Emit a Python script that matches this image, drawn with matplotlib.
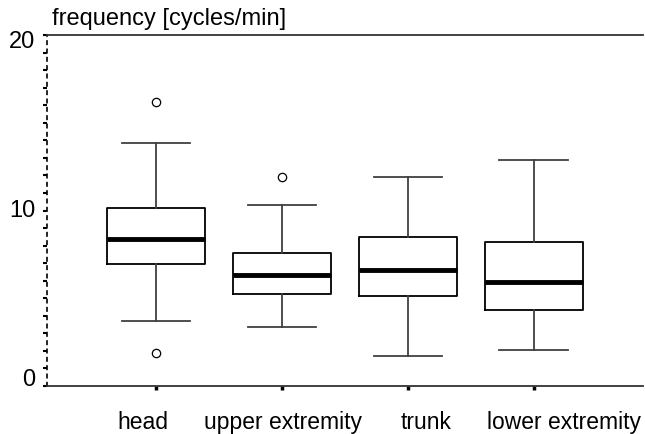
import matplotlib
matplotlib.use("Agg")
import matplotlib.pyplot as plt
import matplotlib.transforms as mtransforms

plt.rcParams['font.family'] = ['Liberation Sans', 'DejaVu Sans']

categories = ["head", "upper extremity", "trunk", "lower extremity"]
medians = [8.39, 6.31, 6.61, 5.91]
q1 = [6.93, 5.23, 5.15, 4.33]
q3 = [10.16, 7.56, 8.51, 8.21]
whisker_low = [3.70, 3.38, 1.71, 2.07]
whisker_high = [13.85, 10.31, 11.93, 12.88]
outliers = [[16.17, 1.86], [11.93], [], []]
y_ticks = [0, 10, 20]

stats = []
for i, c in enumerate(categories):
    stats.append(dict(label=c, med=medians[i], q1=q1[i], q3=q3[i],
                      whislo=whisker_low[i], whishi=whisker_high[i],
                      fliers=outliers[i]))

fig = plt.figure(figsize=(6.45, 4.34), dpi=100)
ax = fig.add_axes([47/645, 48/434, 596/645, 351/434])

positions = [1, 2, 3, 4]
ax.bxp(stats, positions=positions, widths=0.78, capwidths=0.545,
       boxprops=dict(color='black', linewidth=1.3),
       medianprops=dict(color='black', linewidth=3.5, solid_capstyle='butt'),
       whiskerprops=dict(color='#404040', linewidth=1.3),
       capprops=dict(color='#404040', linewidth=1.3),
       flierprops=dict(marker='o', markersize=6, markerfacecolor='white',
                       markeredgecolor='black', markeredgewidth=0.9))

ax.set_xlim(0.134, 4.868)
ax.set_ylim(0, 20)
ax.set_yticks(y_ticks)
ax.set_yticklabels([str(v) for v in y_ticks])
ax.set_yticks(range(0, 21), minor=True)
ax.tick_params(axis='y', which='major', length=3, width=1.5, labelsize=17, pad=5.5)
ax.tick_params(axis='y', which='minor', length=3, width=1.5)
ax.set_xticks(positions)
ax.set_xticklabels(categories)
ax.tick_params(axis='x', length=3, width=2.5, labelsize=16.5, pad=15)

# small per-label offsets (in pixels) to mimic the reference placement
x_offsets = [-13, 1, 18, 30]
for lab, dx in zip(ax.get_xticklabels(), x_offsets):
    lab.set_transform(lab.get_transform() +
                      mtransforms.ScaledTranslation(dx / 100, 0, fig.dpi_scale_trans))
y_offsets = [9, 2, -4]
for lab, dy in zip(ax.get_yticklabels(), y_offsets):
    lab.set_transform(lab.get_transform() +
                      mtransforms.ScaledTranslation(0, dy / 100, fig.dpi_scale_trans))

ax.spines['right'].set_visible(False)
ax.spines['left'].set_linestyle((0, (2, 3)))
ax.spines['left'].set_linewidth(1.2)
ax.spines['top'].set_linewidth(1.3)
ax.spines['bottom'].set_linewidth(1.3)
ax.spines['top'].set_color('#333333')
ax.spines['bottom'].set_color('#333333')

fig.text(52/645, 1 - 24.5/434, "frequency [cycles/min]", fontsize=17,
         ha='left', va='baseline')

fig.savefig("out.png", dpi=100)
